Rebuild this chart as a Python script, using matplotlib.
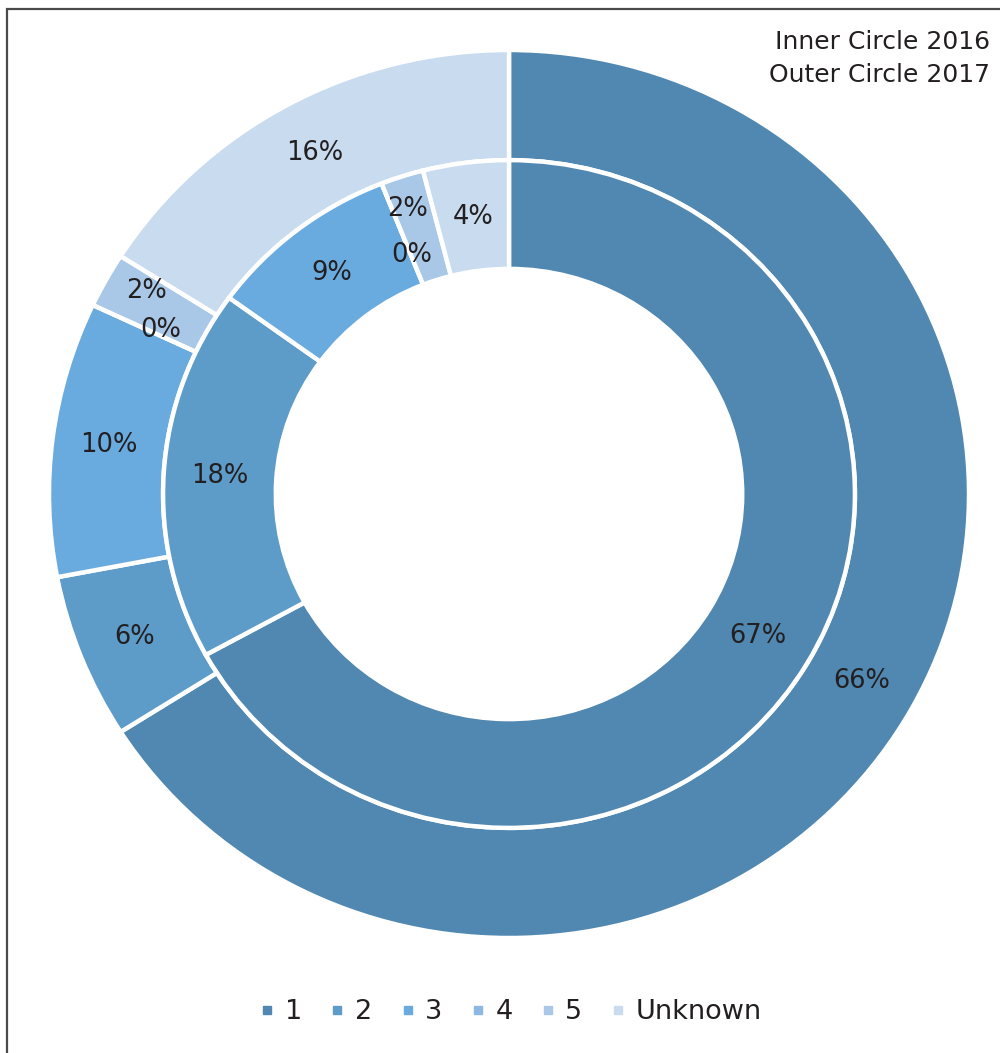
import numpy as np
import matplotlib
matplotlib.use("Agg")
import matplotlib.pyplot as plt
from matplotlib.lines import Line2D
from matplotlib.patches import Rectangle

plt.rcParams['font.family'] = ['DejaVu Sans']

# Data
categories = ["1", "2", "3", "4", "5", "Unknown"]
share_2016 = [67, 18, 9, 0, 2, 4]    # inner ring
share_2017 = [66, 6, 10, 0, 2, 16]   # outer ring
colors = ["#5088b1", "#5d9bc8", "#6aabdf", "#8cb9e4", "#a9c8e8", "#c8dbef"]

TEXT = "#231f20"

fig = plt.figure(figsize=(10, 10.53), dpi=100)
W, H = 1000, 1053

# axes spans the outer ring exactly; the ring is slightly wider than tall
ax = fig.add_axes([49 / W, (H - 938) / H, 920 / W, 888 / H])

R_OUT, R_MID, R_IN = 1.0, 0.752, 0.507
edge = dict(edgecolor="white", linewidth=3.2)

w_out, _ = ax.pie(share_2017, radius=R_OUT, colors=colors, startangle=90,
                  counterclock=False, wedgeprops=dict(width=R_OUT - R_MID, **edge))
w_in, _ = ax.pie(share_2016, radius=R_MID, colors=colors, startangle=90,
                 counterclock=False, wedgeprops=dict(width=R_MID - R_IN, **edge))
ax.set_aspect('auto')
ax.set_xlim(-1, 1)
ax.set_ylim(-1, 1)
ax.axis('off')

# small nudges (points) to keep the tiny neighbouring labels apart
nudge_out = {3: (12, -1.5), 4: (-6.5, 11)}
nudge_in = {3: (7, -15), 4: (-8.5, 13.5)}


def label_ring(values, r_lo, r_hi, nudges):
    r = (r_lo + r_hi) / 2
    total = sum(values)
    cum = 0.0
    for i, v in enumerate(values):
        mid = cum + v / 2
        cum += v
        ang = np.deg2rad(90 - 360 * mid / total)
        x, y = r * np.cos(ang), r * np.sin(ang)
        ax.annotate(f"{v}%", (x, y), xytext=nudges.get(i, (0, 0)),
                    textcoords="offset points", ha="center", va="center",
                    fontsize=18.5, color=TEXT)


label_ring(share_2017, R_MID, R_OUT, nudge_out)
label_ring(share_2016, R_IN, R_MID, nudge_in)

# ring captions
fig.text(990 / W, 1 - 42 / H, "Inner Circle 2016", ha="right", va="center",
         fontsize=18, color=TEXT)
fig.text(990 / W, 1 - 75 / H, "Outer Circle 2017", ha="right", va="center",
         fontsize=18, color=TEXT)

# legend
handles = [Line2D([], [], linestyle="none", marker="s", markersize=6,
                  markerfacecolor=c, markeredgecolor=c) for c in colors]
fig.legend(handles, categories, loc="center", bbox_to_anchor=(511 / W, 1 - 1012 / H),
           ncol=len(categories), frameon=False, fontsize=19.5, handlelength=0.5,
           handletextpad=0.4, columnspacing=1.05, labelcolor=TEXT)

# frame line along the top and left edges
fig.add_artist(Rectangle((7 / W, -0.1), 1.2, (H - 9) / H + 0.1, fill=False,
                         edgecolor="#4a4a4a", linewidth=1.6,
                         transform=fig.transFigure))

fig.savefig("out.png", dpi=100)
